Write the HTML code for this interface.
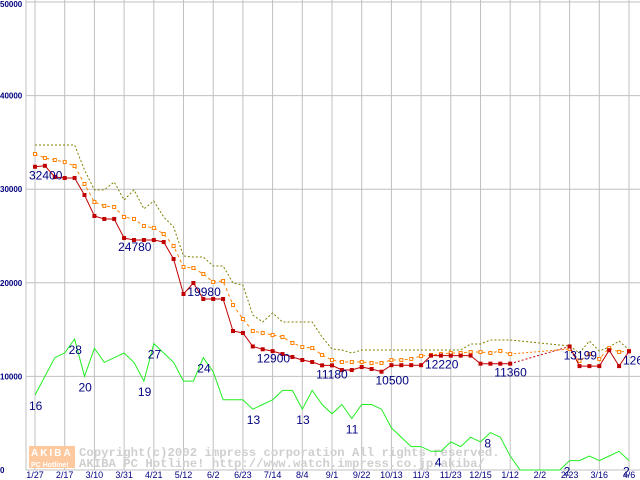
<!DOCTYPE html>
<html><head><meta charset="utf-8"><style>
html,body{margin:0;padding:0;background:#fff;}
svg{display:block;}
text{font-family:"Liberation Sans",sans-serif;}
</style></head><body>
<svg id="chart" width="640" height="480"></svg>
<script>
const xLabels=["1/27","2/17","3/10","3/31","4/21","5/12","6/2","6/23","7/14","8/4","9/1","9/22","10/13","11/3","11/23","12/15","1/12","2/2","2/23","3/16","4/6"];
const yTicks=[0,10000,20000,30000,40000,50000];
const minPrice=[32400,32500,31300,31200,31200,29380,27140,26820,26820,24780,24570,24570,24570,24360,22540,18800,19980,18270,18270,18270,14850,14640,13200,12900,12700,12390,12070,11750,11540,11180,11180,10680,10680,11000,10790,10500,11200,11200,11200,11200,12220,12220,12220,12220,12220,11360,11360,11360,11360,null,null,null,null,null,13199,11100,11100,11100,12800,11100,12680];
const avgPrice=[33760,33330,33120,32900,32480,30560,28630,28210,28100,27030,26820,26070,25860,25210,23930,21690,21580,20940,20090,20190,17630,16130,14850,14640,14420,14210,13570,13140,13030,12290,11750,11540,11540,11540,11430,11430,11750,11750,11860,12180,12290,12390,12500,12500,12610,12610,12500,12710,12390,null,null,null,null,null,12930,11650,12390,11860,13030,12610,12710];
const maxPrice=[34720,34720,34720,34720,34720,32050,29920,29920,30770,28850,29920,27890,28740,27030,25960,22860,22760,22760,21800,21800,19980,19770,16560,15810,16770,15810,15810,15810,15810,14210,12930,12820,12500,12820,12820,12820,12820,12820,12820,12820,12820,12820,12820,12820,13460,13460,13890,13890,13890,null,null,null,null,null,13250,12500,13780,12710,13140,13780,12820];
const shopCount=[16,20,24,25,28,20,26,23,24,25,23,19,27,25,23,19,19,24,21,15,15,15,13,14,15,17,17,13,17,14,12,14,11,14,14,13,9,7,5,5,4,4,6,5,7,6,8,7,3,0,0,0,0,0,2,2,3,2,3,4,2];
const priceLabels=[[0,"32400"],[9,"24780"],[16,"19980"],[23,"12900"],[29,"11180"],[35,"10500"],[40,"12220"],[47,"11360"],[54,"13199"],[60,"12680"]];
const countLabels=[[0,"16"],[4,"28"],[5,"20"],[11,"19"],[12,"27"],[17,"24"],[22,"13"],[27,"13"],[32,"11"],[41,"4"],[46,"8"],[54,"2"],[60,"2"]];

const NS="http://www.w3.org/2000/svg";
const svg=document.getElementById('chart');
const X0=35,STEP=9.9,Y0=470,YT=2;
const xs=i=>X0+STEP*i;
const ys=v=>Y0-(v/50000)*(Y0-YT);
const yc=c=>ys(c*500);
function mk(tag,attrs,parent){const e=document.createElementNS(NS,tag);for(const k in attrs)e.setAttribute(k,attrs[k]);(parent||svg).appendChild(e);return e;}

const grid=mk('g',{});


yTicks.forEach(t=>{
  const l=mk('line',{x1:26,x2:640,y1:ys(t),y2:ys(t),stroke:'#c0c0c0','stroke-width':1},grid);
  
  
  const tx=mk('text',{x:0,y:ys(t)+(t===50000?5:3),'font-size':8,'font-weight':'bold',fill:'#000080'});
  tx.textContent=String(t);
  
  
});
const ax=mk('line',{x1:26,x2:26,y1:0,y2:470,stroke:'#c0c0c0','stroke-width':1},grid);


xLabels.forEach((lab,k)=>{
  const x=xs(k*3);
  const l=mk('line',{x1:x,x2:x,y1:0,y2:470,stroke:'#c0c0c0','stroke-width':1},grid);
  
  
  const tx=mk('text',{x:x,y:478,'font-size':9,'text-anchor':'middle',fill:'#000080'});
  tx.textContent=lab;
  
  
});

const wm=mk('g',{});


mk('rect',{x:29,y:446,width:46,height:22,fill:'#ffc9a0'},wm);
const w1=mk('text',{x:31,y:456,'font-size':10,'font-weight':'bold',fill:'#fff','letter-spacing':'2'},wm);w1.textContent='AKIBA';
const w2=mk('text',{x:31,y:467,'font-size':7,'font-weight':'bold',fill:'#fff'},wm);w2.textContent='PC Hotline!';
const w3=mk('text',{x:79,y:456,'font-size':12.3,'font-weight':'bold',fill:'#cfcfcf',style:'font-family:"Liberation Mono",monospace'},wm);w3.textContent='Copyright(c)2002 impress corporation All rights reserved.';
const w4=mk('text',{x:79,y:467,'font-size':12.3,'font-weight':'bold',fill:'#cfcfcf',style:'font-family:"Liberation Mono",monospace'},wm);w4.textContent='AKIBA PC Hotline!  http://www.watch.impress.co.jp/akiba/';

function segs(arr,f){
  const solid=[],gap=[];let cur=[],last=null;
  arr.forEach((v,i)=>{
    if(v==null){if(cur.length){solid.push(cur);cur=[];}return;}
    const p=[xs(i),f(v)];
    if(last&&last.i!==i-1)gap.push([last.p,p]);
    cur.push(p);last={i,p};
  });
  if(cur.length)solid.push(cur);
  return [solid,gap];
}
const pts=a=>a.map(p=>p[0].toFixed(1)+','+p[1].toFixed(1)).join(' ');
function series(arr,f,color,dash,name,marker){
  const g=mk('g',{});
  
  
  const [solid,gap]=segs(arr,f);
  solid.forEach(s=>{const a={points:pts(s),fill:'none',stroke:color,'stroke-width':1};if(dash)a['stroke-dasharray']=dash;mk('polyline',a,g);});
  gap.forEach(s=>mk('polyline',{points:pts(s),fill:'none',stroke:color,'stroke-width':1,'stroke-dasharray':'2,2'},g));
  if(marker)arr.forEach((v,i)=>{if(v==null)return;
    const r=mk('rect',marker==='fill'?{x:xs(i)-2,y:f(v)-2,width:4,height:4,fill:color}:{x:xs(i)-1.5,y:f(v)-1.5,width:3,height:3,fill:'#fff',stroke:color,'stroke-width':1},g);
    
    
  });
}
series(shopCount,yc,'#22ee22',null,'shop-count-line',null);
series(maxPrice,ys,'#808000','2,2','max-price-line',null);
series(avgPrice,ys,'#ff8000','3,3','avg-price-line','hollow');
series(minPrice,ys,'#c00000',null,'min-price-line','fill');

priceLabels.forEach(([i,t])=>{
  const tx=mk('text',{x:xs(i)-6,y:ys(minPrice[i])+13,'font-size':12,fill:'#000080'});
  tx.textContent=t;
  
  
});
countLabels.forEach(([i,t])=>{
  const tx=mk('text',{x:xs(i)-6,y:yc(shopCount[i])+15,'font-size':12,fill:'#000080'});
  tx.textContent=t;
  
  
});
</script>
</body></html>
